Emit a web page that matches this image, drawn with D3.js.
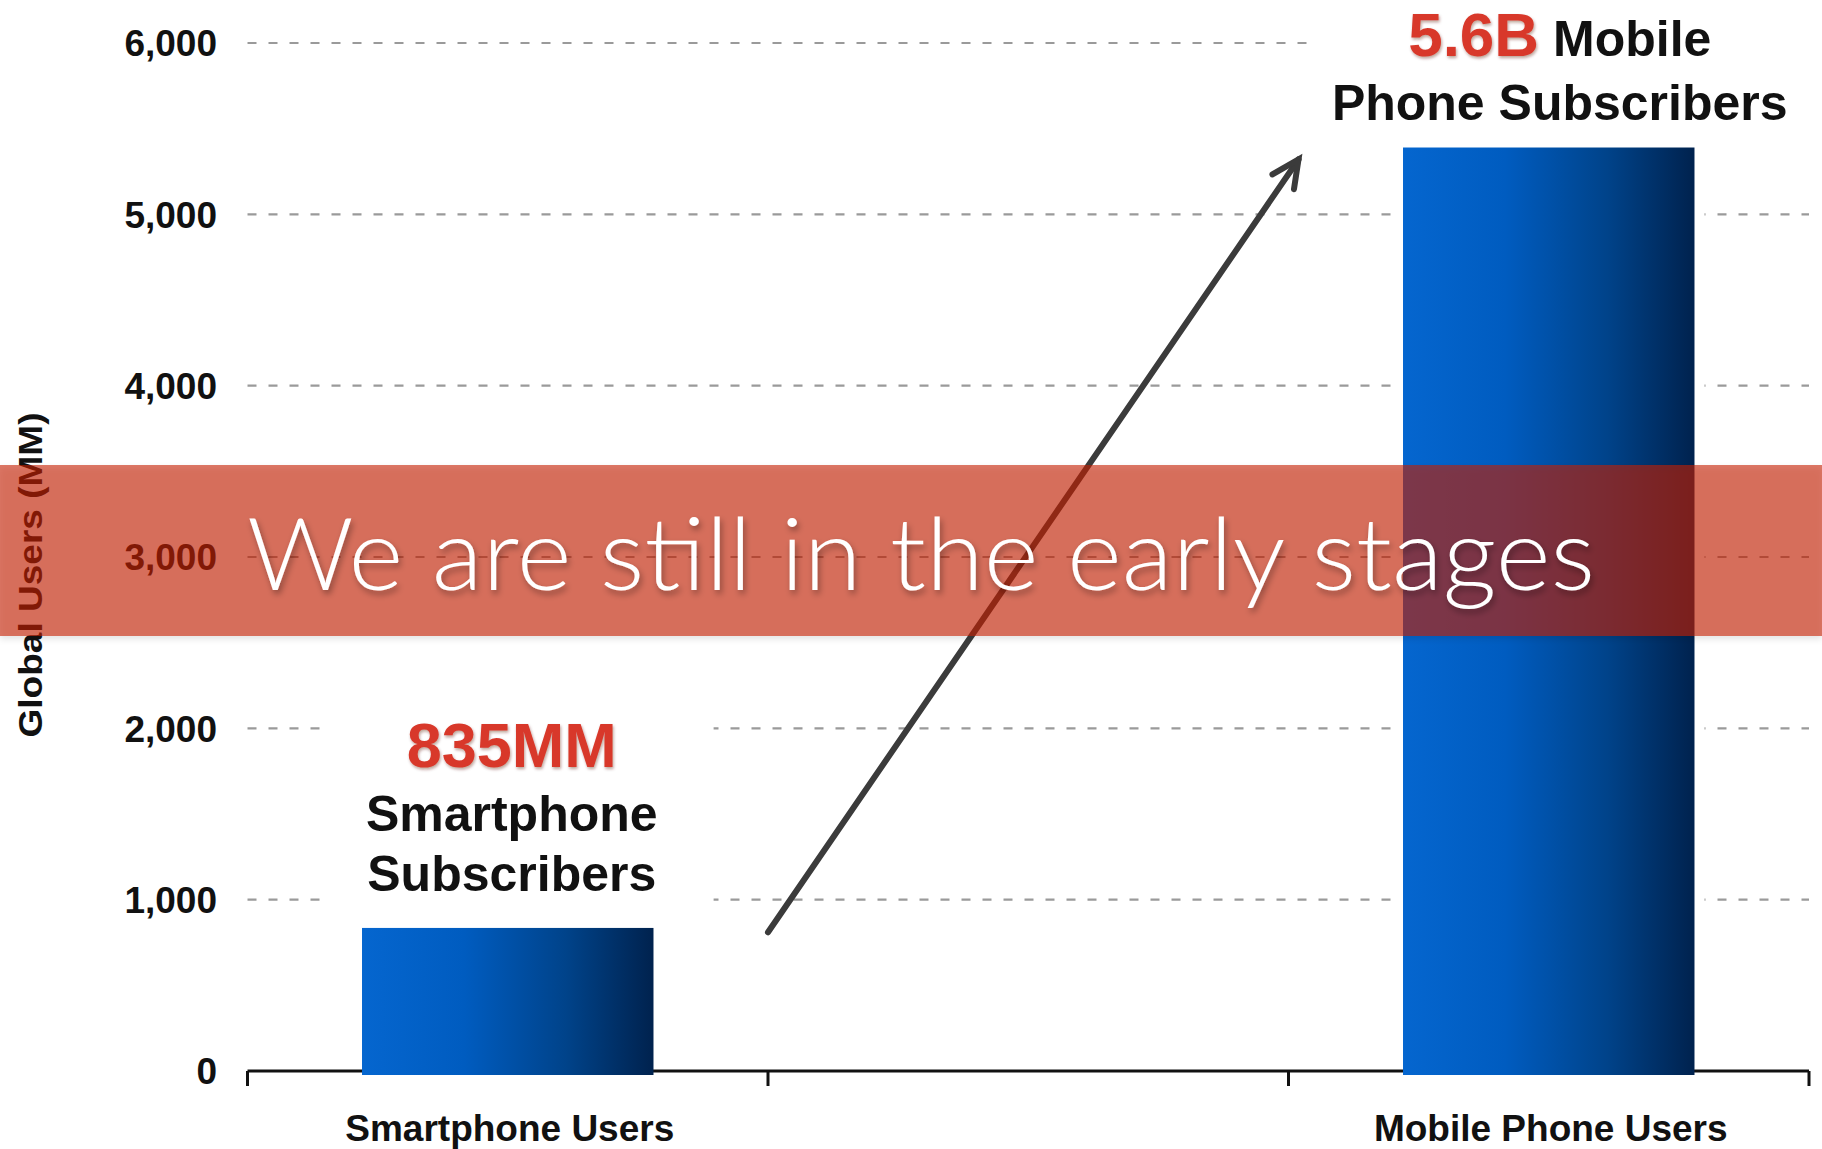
<!DOCTYPE html>
<html>
<head>
<meta charset="utf-8">
<script src="https://cdn.jsdelivr.net/npm/d3@7"></script>
<style>
  html, body { margin: 0; padding: 0; background: #fff; overflow: hidden; }
  svg { display: block; }
</style>
</head>
<body>
<svg class="board"></svg>
<script>
// Slots along the x axis: the middle one is an empty spacer (the arrow sits there).
var slots = ['Smartphone Users', '', 'Mobile Phone Users'];
var users = [835, null, 5390];
var yTicks = [0, 1000, 2000, 3000, 4000, 5000, 6000];
var callouts = [
  { hot: '835MM', lines: ['Smartphone', 'Subscribers'] },
  null,
  { hot: '5.6B', lines: [' Mobile', 'Phone Subscribers'] }
];
// Arrow runs from smartphone level to mobile level across the spacer slot.
var arrowFrom = 810;
var arrowTo = 5320;
var bannerText = 'We are still in the early stages';

var width = 1822;
var height = 1149;
var board = d3.select('.board')
  .attr('width', width)
  .attr('height', height)
  .attr('viewBox', `0 0 ${width} ${height}`);

var x = d3.scaleBand().domain(slots).range([247.5, 1809]).padding(0);
var y = d3.scaleLinear().domain([0, 6000]).range([1071, 43]);
var barW = x.bandwidth() * 0.56;
var barX = d => x(d) + (x.bandwidth() - barW) / 2;
var font = 'Liberation Sans, Arial, sans-serif';

var defs = board.append('defs');
var grad = defs.append('linearGradient').attr('id', 'barGrad');
[['0%', '#0566cf'], ['35%', '#005cc0'], ['70%', '#00438a'], ['100%', '#00224e']]
  .forEach(s => grad.append('stop').attr('offset', s[0]).attr('stop-color', s[1]));

var shadow = defs.append('filter').attr('id', 'txtShadow')
  .attr('x', '-5%').attr('y', '-20%').attr('width', '110%').attr('height', '150%');
shadow.append('feDropShadow').attr('dx', 2).attr('dy', 4).attr('stdDeviation', 3)
  .attr('flood-color', '#000').attr('flood-opacity', 0.35);

var bandShadow = defs.append('filter').attr('id', 'bandShadow')
  .attr('x', '0').attr('y', '-10%').attr('width', '100%').attr('height', '130%');
bandShadow.append('feDropShadow').attr('dx', 0).attr('dy', 3).attr('stdDeviation', 3)
  .attr('flood-color', '#000').attr('flood-opacity', 0.18);

var redShadow = defs.append('filter').attr('id', 'redShadow')
  .attr('x', '-5%').attr('y', '-10%').attr('width', '110%').attr('height', '130%');
redShadow.append('feDropShadow').attr('dx', 1).attr('dy', 2).attr('stdDeviation', 1.5)
  .attr('flood-color', '#5a1a10').attr('flood-opacity', 0.4);

// grid
var grid = board.append('g');
grid.selectAll('line').data(yTicks.filter(t => t > 0)).enter().append('line')
  .attr('x1', x.range()[0]).attr('x2', x.range()[1])
  .attr('y1', d => y(d)).attr('y2', d => y(d))
  .attr('stroke', '#9a9a9a').attr('stroke-width', 2.2)
  .attr('stroke-dasharray', '9,12');

// y tick labels
board.append('g').selectAll('text').data(yTicks).enter().append('text')
  .attr('x', 217).attr('y', d => y(d)).attr('dy', '0.36em')
  .attr('text-anchor', 'end')
  .attr('font-family', font)
  .attr('font-weight', 'bold').attr('font-size', 37).attr('fill', '#111')
  .text(d3.format(','));

// y axis title
board.append('text')
  .attr('transform', 'translate(42,575) rotate(-90)')
  .attr('text-anchor', 'middle')
  .attr('font-family', font)
  .attr('font-weight', 'bold').attr('font-size', 34).attr('fill', '#111')
  .attr('textLength', 325).attr('lengthAdjust', 'spacingAndGlyphs')
  .text('Global Users (MM)');

// white knock-outs around bars
var bars = slots.map((s, i) => ({ slot: s, v: users[i], c: callouts[i] })).filter(d => d.v != null);
board.append('g').selectAll('rect').data(bars).enter().append('rect')
  .attr('x', d => barX(d.slot) - 10).attr('width', barW + 20)
  .attr('y', d => y(d.v) - 10).attr('height', d => y(0) - y(d.v) + 10)
  .attr('fill', '#fff');

// x axis
var axis = board.append('g').attr('stroke', '#111').attr('stroke-width', 3);
axis.append('line')
  .attr('x1', x.range()[0]).attr('x2', x.range()[1])
  .attr('y1', y(0)).attr('y2', y(0));
axis.selectAll('.tick').data(slots.map(s => x(s)).concat([x.range()[1]])).enter().append('line')
  .attr('class', 'tick')
  .attr('x1', d => d).attr('x2', d => d)
  .attr('y1', y(0)).attr('y2', y(0) + 15);

// bars
board.append('g').selectAll('rect').data(bars).enter().append('rect')
  .attr('x', d => barX(d.slot)).attr('width', barW)
  .attr('y', d => y(d.v)).attr('height', d => y(0) - y(d.v) + 4)
  .attr('fill', 'url(#barGrad)');

// category labels
board.append('g').selectAll('text').data(bars).enter().append('text')
  .attr('x', d => x(d.slot) + x.bandwidth() / 2 + 2)
  .attr('y', 1141)
  .attr('text-anchor', 'middle')
  .attr('font-family', font)
  .attr('font-weight', 'bold').attr('font-size', 37).attr('fill', '#111')
  .text(d => d.slot);

// callouts
var small = bars[0];
var cx0 = x(small.slot) + x.bandwidth() / 2 + 4;
var g0 = board.append('g');
var bg0 = g0.append('rect').attr('fill', '#fff');
var t0 = g0.append('g');
t0.append('text').attr('x', cx0).attr('y', 767).attr('text-anchor', 'middle')
  .attr('font-family', font).attr('font-weight', 'bold').attr('font-size', 63)
  .attr('fill', '#d8392b').attr('filter', 'url(#redShadow)')
  .text(small.c.hot);
small.c.lines.forEach((ln, i) => {
  t0.append('text').attr('x', cx0).attr('y', 831 + i * 60).attr('text-anchor', 'middle')
    .attr('font-family', font).attr('font-weight', 'bold').attr('font-size', 50)
    .attr('fill', '#111').text(ln);
});
var b0 = t0.node().getBBox();
bg0.attr('x', b0.x - 42).attr('y', b0.y - 12).attr('width', b0.width + 98).attr('height', b0.height + 18);

var big = bars[1];
var cx1 = x(big.slot) + x.bandwidth() / 2 + 11;
var g1 = board.append('g');
var bg1 = g1.append('rect').attr('fill', '#fff');
var t1 = g1.append('g');
var line1 = t1.append('text').attr('x', cx1).attr('y', 56).attr('text-anchor', 'middle')
  .attr('font-family', font).attr('font-weight', 'bold');
line1.append('tspan').attr('font-size', 62).attr('fill', '#d8392b')
  .attr('filter', 'url(#redShadow)').text(big.c.hot);
line1.append('tspan').attr('font-size', 50).attr('fill', '#111').text(big.c.lines[0]);
t1.append('text').attr('x', cx1).attr('y', 120).attr('text-anchor', 'middle')
  .attr('font-family', font).attr('font-weight', 'bold').attr('font-size', 50)
  .attr('fill', '#111').text(big.c.lines[1]);
var b1 = t1.node().getBBox();
bg1.attr('x', b1.x - 24).attr('y', 0).attr('width', b1.width + 56).attr('height', b1.y + b1.height + 12);

// arrow across the spacer slot
var ax0 = x(''), ay0 = y(arrowFrom);
var ax1 = x('') + x.bandwidth() + 10, ay1 = y(arrowTo);
var ang = Math.atan2(ay1 - ay0, ax1 - ax0);
var head = 30;
var arrow = board.append('g').attr('stroke', '#3b3b3b').attr('stroke-width', 6)
  .attr('stroke-linecap', 'round').attr('fill', 'none');
arrow.append('line').attr('x1', ax0).attr('y1', ay0).attr('x2', ax1).attr('y2', ay1);
arrow.append('path').attr('stroke-linejoin', 'miter')
  .attr('d', `M${ax1 - head * Math.cos(ang - 0.45)},${ay1 - head * Math.sin(ang - 0.45)}
    L${ax1},${ay1}
    L${ax1 - head * Math.cos(ang + 0.45)},${ay1 - head * Math.sin(ang + 0.45)}`);

// overlay banner
board.append('rect')
  .attr('x', 0).attr('width', width)
  .attr('y', 465).attr('height', 171)
  .attr('fill', 'rgb(196,28,8)').attr('fill-opacity', 0.6)
  .attr('filter', 'url(#bandShadow)');
board.append('text')
  .attr('x', 247).attr('y', 590)
  .attr('font-family', 'Lato, "Open Sans", sans-serif')
  .attr('font-weight', 300).attr('font-size', 100).attr('fill', '#fff')
  .attr('textLength', 1348).attr('lengthAdjust', 'spacingAndGlyphs')
  .attr('filter', 'url(#txtShadow)')
  .text(bannerText);
</script>
</body>
</html>
